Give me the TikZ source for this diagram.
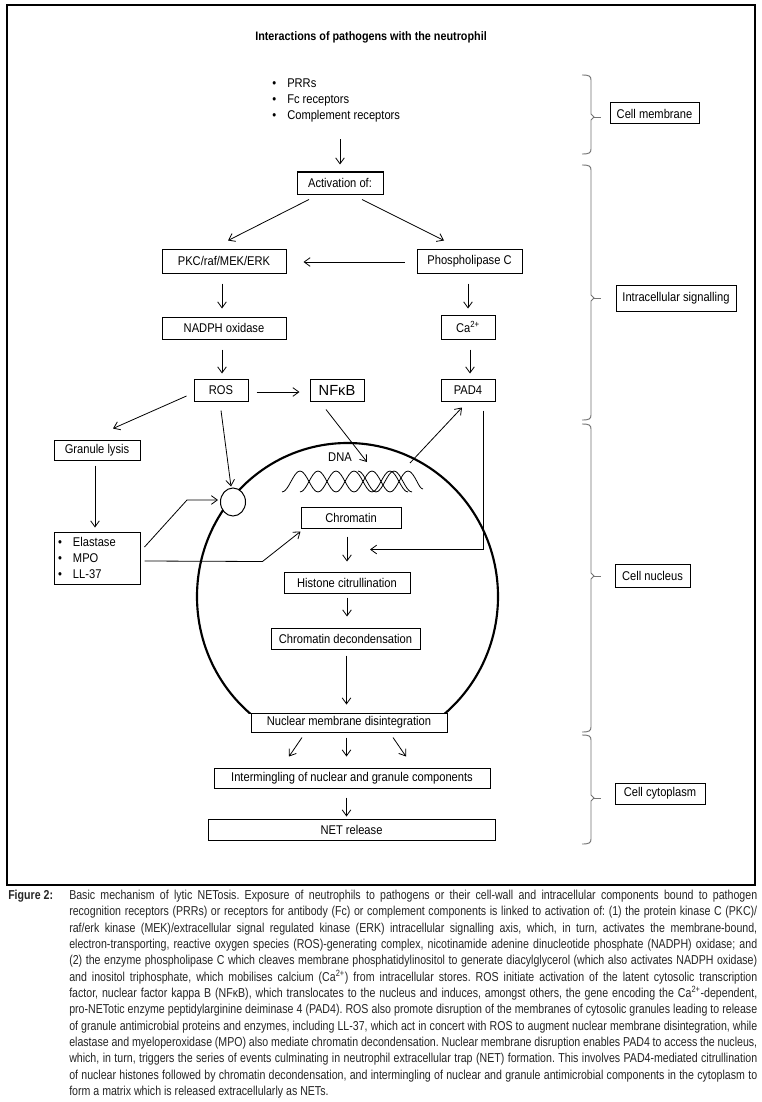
\documentclass[tikz,border=0pt]{standalone}
\usepackage{fontspec}
\setmainfont{Liberation Sans}[FakeStretch=0.88]
\newfontfamily\nffont{Liberation Sans}
\newfontfamily\capfont{Liberation Sans}[FakeStretch=0.82]
\usetikzlibrary{calc,arrows.meta,shapes.geometric}
\newcommand\mybrace[3]{%
  \draw[brace] (582,#1) .. controls (589,#1) and (591,#1+1) .. (591,#1+5) -- (591,#2-3) -- (594,#2) -- (591,#2+3) -- (591,#3-5) .. controls (591,#3-1) and (589,#3) .. (582,#3);
  \draw[brace] (594,#2) -- (601,#2);}
\newcommand\bul{\makebox[11.25pt][l]{\textbullet}}
\begin{document}
\begin{tikzpicture}[x=0.75pt,y=-0.75pt,
  every node/.style={inner sep=0pt},
  dfont/.style={font=\fontsize{9.5pt}{12pt}\selectfont},
  box/.style 2 args={draw, line width=0.75pt, fill=white, align=center, dfont,
    minimum width=#1*0.75pt, minimum height=#2*0.75pt},
  arr/.style={draw, line width=0.6pt, -{Straight Barb[length=4.5pt,width=6.5pt]}},
  brace/.style={draw=black!55, line width=0.7pt},
  helix/.style={draw, line width=0.6pt},
]
\useasboundingbox (0,0) rectangle (761,1102);
\fill[white] (0,0) rectangle (761,1102);
\draw[line width=0.9pt] (7,5) rectangle (755,885);

% title
\node[font=\bfseries\fontsize{9.2pt}{11pt}\selectfont] (title) at (371,37) {Interactions of pathogens with the neutrophil};

% receptors
\node[dfont, align=left, anchor=west, minimum height=60*0.75pt] (recep) at (272,100)
  {\bul PRRs\\ \bul Fc receptors\\ \bul Complement receptors};

% nucleus
\begin{scope}
  \clip (0,0) rectangle (761,713);
  \draw[line width=1.6pt] (347.5,596.5) ellipse [x radius=150.5, y radius=153.5];
\end{scope}
\node[draw, ellipse, line width=0.75pt, fill=white, minimum width=25*0.75pt, minimum height=28*0.75pt] (pore) at (233,502) {};

% DNA
\node[dfont] (dnalbl) at (340,457) {DNA};
\draw[helix] (282,492) cos (291,481.5) sin (300,471) cos (309,481.5) sin (318,492)
  cos (327,481.5) sin (336,471) cos (345,481.5) sin (354,492)
  cos (363,481.5) sin (372,471) cos (381,481.5) sin (390,492)
  cos (399,481.5) sin (408,471) cos (417,481.5) sin (423,489);
\draw[helix] (300,492) cos (309,481.5) sin (318,471) cos (327,481.5) sin (336,492)
  cos (345,481.5) sin (354,471) cos (363,481.5) sin (372,492)
  cos (381,481.5) sin (390,471) cos (399,481.5) sin (408,492);
\draw[helix] (358,471) cos (367,481.5) sin (376,492) cos (385,481.5) sin (394,471)
  cos (403,481.5) sin (412,492);
\coordinate (dnain) at (367,462);
\coordinate (dnaout) at (410,463);

% boxes
\node[box={86}{22}] (act) at (340,183) {Activation of:};
\node[box={124}{24}] (pkc) at (224,261) {PKC/raf/MEK/ERK};
\node[box={105}{24}] (plc) at (469.5,261) {Phospholipase C};
\node[box={124}{22}] (nadph) at (224,328) {NADPH oxidase};
\node[box={54}{24}] (ca) at (468,327) {Ca\textsuperscript{2+}};
\node[box={54}{22}] (ros) at (221,390) {ROS};
\node[box={54}{22}, font=\nffont\fontsize{11pt}{13pt}\selectfont] (nfkb) at (337,390) {NFκB};
\node[box={54}{22}] (pad4) at (468,390) {PAD4};
\node[box={86}{20}] (gran) at (97,450) {Granule lysis};
\node[box={86}{52}, align=left, text width=78*0.75pt] (elast) at (97,558)
  {\bul Elastase\\ \bul MPO\\ \bul LL-37};
\node[box={100}{21}] (chrom) at (351,517.5) {Chromatin};
\node[box={126}{21}] (hist) at (347,582.5) {Histone citrullination};
\node[box={149}{21}] (decond) at (345.5,638.5) {Chromatin decondensation};
\node[box={196}{19}] (nmd) at (349,722.5) {Nuclear membrane disintegration};
\node[box={276}{20}] (inter) at (352,778) {Intermingling of nuclear and granule components};
\node[box={287}{21}] (netrel) at (351.5,829.5) {NET release};

% side labels
\mybrace{75}{117}{154}
\mybrace{165}{298}{420}
\mybrace{424}{576}{732}
\mybrace{735}{798}{844}
\node[box={89}{21}] (memb) at (654.5,113.5) {Cell membrane};
\node[box={120}{26}] (intra) at (676,298) {Intracellular signalling};
\node[box={75}{23}] (nucl) at (652.5,575.5) {Cell nucleus};
\node[box={90}{21}] (cyto) at (660,793.5) {Cell cytoplasm};

% arrows
\draw[arr] ($(recep.south -| act.north)+(0,9)$) -- ($(act.north)+(0,-7)$);
\draw[arr] ($(act.south)+(-31,5)$) -- ($(pkc.north)+(4,-8)$);
\draw[arr] ($(act.south)+(22,5)$) -- ($(plc.north)+(-25.5,-8)$);
\draw[arr] ($(plc.west)+(-12,1)$) -- ($(pkc.east)+(17,1)$);
\draw[arr] ($(pkc.south)+(-2,10)$) -- ($(nadph.north)+(-2,-8)$);
\draw[arr] ($(plc.south -| ca.north)+(0,10)$) -- ($(ca.north)+(0,-6)$);
\draw[arr] ($(nadph.south)+(-2,10)$) -- ($(ros.north)+(1,-5)$);
\draw[arr] ($(ca.south)+(2,10)$) -- ($(pad4.north)+(2,-5)$);
\draw[arr] ($(ros.east)+(8,2)$) -- ($(nfkb.west)+(-10,2)$);
\draw[arr] ($(ros.west)+(-7,6)$) -- ($(gran.north)+(16,-11)$);
\draw[arr] ($(gran.south)+(-2,5)$) -- ($(elast.north)+(-2,-4)$);
\draw[arr] ($(ros.south)+(0,9)$) -- ($(pore.north)+(-2,-1)$);
\draw[arr] ($(elast.east)+(4,-11)$) -- ($(pore.west)+(-33,-2)$) -- ($(pore.west)+(-2,-2)$);
\draw[arr] ($(elast.east)+(4,3)$) -- ($(chrom.south west)+(-38,33)$) -- ($(chrom.south west)+(0,3)$);
\draw[arr] ($(nfkb.south)+(-11,8)$) -- (dnain);
\draw[arr] (dnaout) -- ($(pad4.south)+(-6,6)$);
\draw[arr] ($(pad4.south)+(15,9)$) |- ($(chrom.south)+(19,21)$);
\draw[arr] ($(chrom.south -| hist.north)+(0,8)$) -- ($(hist.north)+(0,-10)$);
\draw[arr] ($(hist.south)+(0,4)$) -- ($(decond.north -| hist.south)+(0,-11)$);
\draw[arr] ($(decond.south)+(1,6)$) -- ($(nmd.north)+(-2.5,-8)$);
\draw[arr] ($(nmd.south)+(-47,5)$) -- ($(inter.north)+(-63,-11)$);
\draw[arr] ($(nmd.south)+(-2.5,5)$) -- ($(inter.north)+(-5.5,-11)$);
\draw[arr] ($(nmd.south)+(44,5)$) -- ($(inter.north)+(54,-11)$);
\draw[arr] ($(inter.south)+(-5.5,9)$) -- ($(netrel.north)+(-5,-2)$);

% caption
\node[font=\capfont\bfseries\fontsize{9.7pt}{12.25pt}\selectfont, anchor=base west, text=black!85] (figlbl) at (8,899) {Figure 2:};
\node[font=\capfont\frenchspacing\fontsize{9.7pt}{12.25pt}\selectfont, anchor=north west, align=left, text=black!85] (caption) at (69,890) {%
\makebox[516pt][s]{Basic mechanism of lytic NETosis. Exposure of neutrophils to pathogens or their cell-wall and intracellular components bound to pathogen}\\
\makebox[516pt][s]{recognition receptors (PRRs) or receptors for antibody (Fc) or complement components is linked to activation of: (1) the protein kinase C (PKC)/}\\
\makebox[516pt][s]{raf/erk kinase (MEK)/extracellular signal regulated kinase (ERK) intracellular signalling axis, which, in turn, activates the membrane-bound,}\\
\makebox[516pt][s]{electron-transporting, reactive oxygen species (ROS)-generating complex, nicotinamide adenine dinucleotide phosphate (NADPH) oxidase; and}\\
\makebox[516pt][s]{(2) the enzyme phospholipase C which cleaves membrane phosphatidylinositol to generate diacylglycerol (which also activates NADPH oxidase)}\\
\makebox[516pt][s]{and inositol triphosphate, which mobilises calcium (Ca\textsuperscript{2+}) from intracellular stores. ROS initiate activation of the latent cytosolic transcription}\\
\makebox[516pt][s]{factor, nuclear factor kappa B (NFκB), which translocates to the nucleus and induces, amongst others, the gene encoding the Ca\textsuperscript{2+}-dependent,}\\
\makebox[516pt][s]{pro-NETotic enzyme peptidylarginine deiminase 4 (PAD4). ROS also promote disruption of the membranes of cytosolic granules leading to release}\\
\makebox[516pt][s]{of granule antimicrobial proteins and enzymes, including LL-37, which act in concert with ROS to augment nuclear membrane disintegration, while}\\
\makebox[516pt][s]{elastase and myeloperoxidase (MPO) also mediate chromatin decondensation. Nuclear membrane disruption enables PAD4 to access the nucleus,}\\
\makebox[516pt][s]{which, in turn, triggers the series of events culminating in neutrophil extracellular trap (NET) formation. This involves PAD4-mediated citrullination}\\
\makebox[516pt][s]{of nuclear histones followed by chromatin decondensation, and intermingling of nuclear and granule antimicrobial components in the cytoplasm to}\\
form a matrix which is released extracellularly as NETs.};
\end{tikzpicture}
\end{document}
